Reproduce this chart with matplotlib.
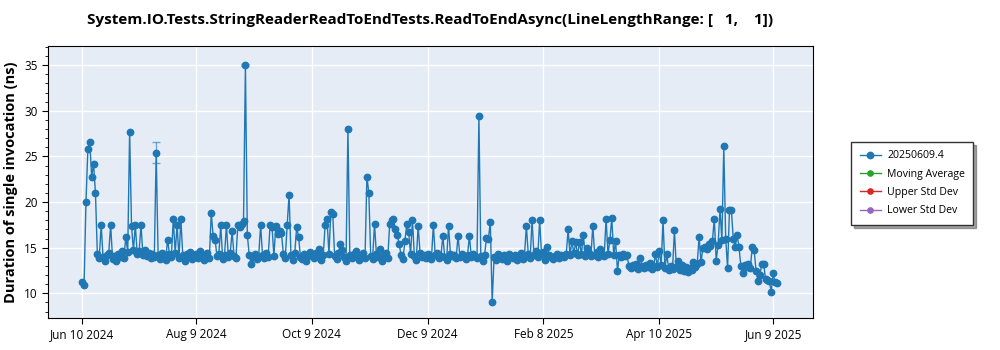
import matplotlib
matplotlib.use("Agg")
import matplotlib.pyplot as plt
from matplotlib.ticker import MultipleLocator
import pandas as pd

plt.rcParams['font.family'] = ['Open Sans', 'DejaVu Sans']

title = "System.IO.Tests.StringReaderReadToEndTests.ReadToEndAsync(LineLengthRange: [   1,    1])"
series_name = "20250609.4"
start_date = "2024-06-10"

# one value per day from start_date (ns)
durations = [
    11.2, 10.9, 20.0, 25.8, 26.6, 22.8, 24.2, 21.0, 14.3, 13.9,   # 0
    17.5, 14.0, 13.6, 14.2, 14.4, 17.5, 13.8, 14.1, 13.5, 14.3,   # 10
    14.0, 14.6, 13.9, 16.2, 14.5, 27.7, 17.4, 14.7, 17.5, 14.3,   # 20
    14.6, 17.5, 14.2, 14.8, 14.1, 14.4, 13.9, 14.3, 14.0, 25.4,   # 30
    14.2, 13.8, 14.4, 14.1, 13.7, 15.9, 14.3, 14.0, 18.2, 14.4,   # 40
    17.5, 13.9, 18.1, 14.2, 13.6, 14.3, 14.0, 14.5, 13.8, 14.1,   # 50
    14.3, 13.9, 14.6, 14.0, 13.7, 14.2, 14.4, 13.9, 18.8, 16.3,   # 60
    15.9, 14.1, 14.3, 17.5, 13.8, 14.2, 17.5, 14.0, 14.4, 16.8,   # 70
    14.1, 13.9, 17.5, 17.3, 17.6, 17.9, 35.0, 16.4, 14.2, 13.2,   # 80
    14.0, 14.3, 13.8, 14.1, 17.5, 14.2, 13.9, 14.4, 14.0, 17.5,   # 90
    17.3, 14.1, 17.4, 16.5, 16.8, 16.6, 14.3, 13.9, 17.5, 20.8,   # 100
    14.2, 13.7, 14.4, 17.3, 16.2, 14.0, 13.8, 14.3, 13.6, 14.1,   # 110
    14.5, 14.2, 13.9, 14.4, 14.0, 14.9, 13.7, 14.2, 17.5, 18.1,   # 120
    14.3, 18.9, 18.7, 14.1, 13.8, 14.4, 15.4, 14.8, 14.0, 13.6,   # 130
    28.0, 14.2, 13.9, 14.3, 14.6, 14.0, 13.7, 14.2, 14.4, 13.9,   # 140
    22.8, 21.0, 14.1, 13.8, 17.6, 14.3, 14.0, 14.9, 13.6, 14.2,   # 150
    14.4, 13.9, 17.6, 18.0, 18.1, 17.1, 16.4, 15.4, 14.2, 13.8,   # 160
    15.7, 17.6, 16.7, 14.3, 18.0, 14.1, 13.7, 17.4, 14.4, 14.0,   # 170
    14.2, 13.9, 14.3, 14.1, 13.8, 17.5, 14.2, 14.4, 13.9, 14.1,   # 180
    16.3, 14.0, 13.7, 17.4, 14.3, 14.1, 14.2, 13.9, 16.3, 14.0,   # 190
    14.3, 14.1, 13.8, 14.2, 16.3, 14.0, 14.3, 14.1, 13.9, 29.4,   # 200
    14.1, 13.6, 14.2, 16.1, 16.0, 17.8, 9.0, 14.0, 13.7, 14.3,    # 210
    14.1, 13.8, 14.2, 14.0, 13.6, 14.3, 14.1, 13.9, 14.2, 13.7,   # 220
    14.0, 14.4, 13.8, 14.1, 17.4, 14.3, 13.9, 18.0, 14.2, 14.6,   # 230
    14.0, 18.0, 14.3, 14.5, 13.7, 15.1, 14.2, 14.0, 13.8, 14.1,   # 240
    14.3, 13.9, 14.2, 14.1, 14.0, 14.3, 17.0, 14.2, 15.7, 14.4,   # 250
    15.6, 14.2, 15.6, 14.3, 16.4, 14.1, 15.0, 14.4, 14.1, 17.4,   # 260
    14.2, 14.5, 14.0, 14.9, 14.3, 14.1, 18.2, 14.3, 15.8, 18.3,   # 270
    14.2, 15.7, 12.5, 14.2, 14.0, 14.3, 14.1, 14.2, 13.0, 12.8,   # 280
    13.1, 12.9, 13.2, 12.7, 13.9, 13.0, 12.8, 13.1, 12.9, 13.3,   # 290
    12.7, 13.0, 14.3, 12.9, 14.6, 13.1, 18.0, 12.8, 14.3, 12.6,   # 300
    13.0, 12.7, 16.9, 12.9, 13.6, 12.6, 13.1, 12.5, 12.9, 12.3,   # 310
    12.8, 12.6, 13.4, 12.9, 13.2, 16.2, 13.4, 15.0, 15.1, 14.9,   # 320
    15.4, 15.2, 15.7, 18.2, 13.6, 15.3, 19.2, 15.8, 26.1, 16.0,   # 330
    12.8, 19.1, 19.1, 16.0, 15.1, 16.4, 15.1, 13.0, 12.2, 13.1,   # 340
    12.9, 13.2, 12.8, 15.1, 14.7, 12.5, 11.35, 12.0, 13.2, 13.2,  # 350
    11.6, 11.5, 11.3, 10.15, 12.2, 11.2, 11.1,                    # 360
]

# points that carry a visible error bar (day index, half-width)
err_days = [39, 86]
err_sizes = [1.15, 0.1]

tick_dates = ["2024-06-10", "2024-08-09", "2024-10-09", "2024-12-09",
              "2025-02-08", "2025-04-10", "2025-06-09"]
tick_labels = ["Jun 10 2024", "Aug 9 2024", "Oct 9 2024", "Dec 9 2024",
               "Feb 8 2025", "Apr 10 2025", "Jun 9 2025"]

dates = pd.date_range(start_date, periods=len(durations), freq="D")

fig = plt.figure(figsize=(10, 3.5), dpi=100)
ax = fig.add_axes([0.048, 0.0914, 0.765, 0.7772])
ax.set_facecolor("#e5ecf6")

blue = "#1f77b4"
ax.plot(dates, durations, "-o", color=blue, lw=1.0, ms=4.6, label=series_name, zorder=3)
ax.errorbar(dates[err_days], [durations[i] for i in err_days], yerr=err_sizes,
            fmt="none", ecolor=blue, alpha=0.6, capsize=3, lw=1, zorder=2)

# empty companion series shown only in the legend
ax.plot([], [], "-o", color="#2ca02c", lw=1.0, ms=3.8, label="Moving Average")
ax.plot([], [], "-o", color="#d62728", lw=1.0, ms=3.8, label="Upper Std Dev")
ax.plot([], [], "-o", color="#9467bd", lw=1.0, ms=3.8, label="Lower Std Dev")

ax.set_xlim(pd.Timestamp("2024-05-23"), pd.Timestamp("2025-06-30"))
ax.set_ylim(7.3, 37.1)
ax.set_xticks(pd.to_datetime(tick_dates))
ax.set_xticklabels(tick_labels)
ax.yaxis.set_major_locator(MultipleLocator(5))
ax.yaxis.set_minor_locator(MultipleLocator(1))
ax.tick_params(axis="both", labelsize=8.5, length=4)
ax.tick_params(axis="y", which="minor", length=2)

ax.grid(True, color="white", lw=1.0)
ax.set_axisbelow(True)
for s in ax.spines.values():
    s.set_color("black")

ax.set_title(title, fontsize=11, fontweight="bold", pad=16)
ax.set_ylabel("Duration of single invocation (ns)", fontsize=10.5, fontweight="bold")

fig.legend(loc="upper left", bbox_to_anchor=(0.846, 0.61), fontsize=7.6,
           fancybox=False, shadow=True, edgecolor="#333333", framealpha=1,
           borderpad=0.8, labelspacing=0.7, handlelength=2.0, handletextpad=0.6)

fig.savefig("out.png", dpi=100)
